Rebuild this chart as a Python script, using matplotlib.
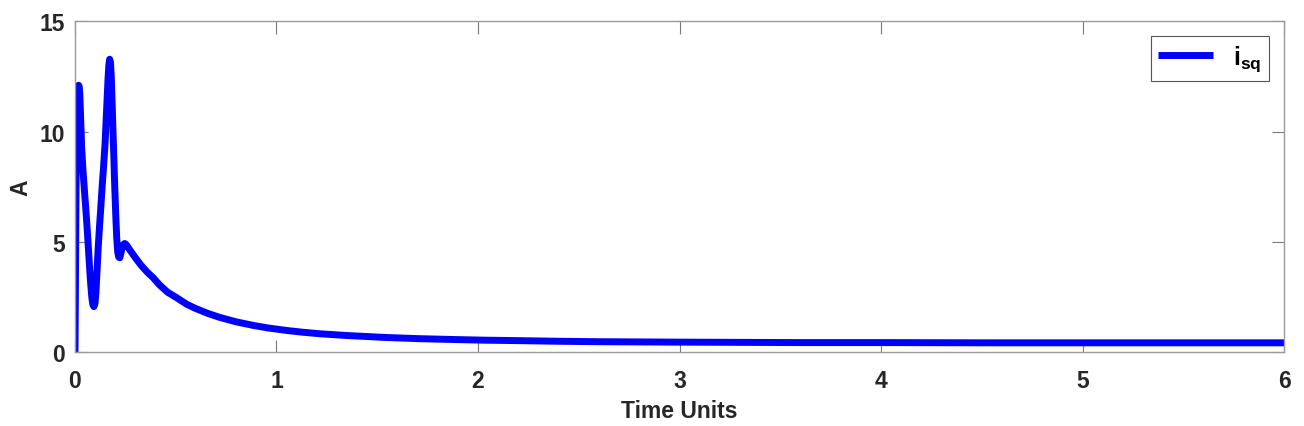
import numpy as np
import matplotlib.pyplot as plt

plt.rcParams['font.family'] = ['Liberation Sans', 'DejaVu Sans']
plt.rcParams['mathtext.fontset'] = 'custom'
plt.rcParams['mathtext.rm'] = 'Liberation Sans:bold'
plt.rcParams['mathtext.it'] = 'Liberation Sans:bold'
plt.rcParams['mathtext.bf'] = 'Liberation Sans:bold'

# values (time, current)
time_units = [
    0.000, 0.002, 0.004, 0.006, 0.009, 0.012, 0.015, 0.018, 0.021, 0.024,
    0.027, 0.030, 0.033, 0.040, 0.048, 0.056, 0.064, 0.072, 0.078, 0.084,
    0.089, 0.094, 0.099, 0.104, 0.109, 0.115, 0.121, 0.127, 0.134, 0.141,
    0.149, 0.155, 0.160, 0.164, 0.168, 0.172, 0.176, 0.180, 0.184, 0.188,
    0.193, 0.197, 0.202, 0.207, 0.212, 0.217, 0.222, 0.227, 0.233, 0.240,
    0.247, 0.254, 0.262, 0.275, 0.300, 0.330, 0.360, 0.388, 0.420, 0.460,
    0.500, 0.554, 0.600, 0.660, 0.719, 0.800, 0.884, 0.960, 1.050, 1.130,
    1.215, 1.350, 1.546, 1.700, 1.877, 2.030, 2.190, 2.400, 2.600, 2.800,
    3.000, 3.300, 3.600, 4.000, 4.500, 5.000, 5.500, 6.000,
]
i_sq = [
    0.00, 2.60, 5.80, 8.40, 10.50, 11.50, 11.95, 12.10, 12.05, 11.70,
    10.90, 10.10, 9.30, 8.20, 7.20, 6.20, 5.10, 3.90, 3.10, 2.45,
    2.15, 2.07, 2.20, 2.70, 3.60, 4.70, 5.60, 6.40, 7.40, 8.30,
    9.40, 10.60, 11.60, 12.40, 13.00, 13.28, 13.15, 12.50, 11.40, 10.20,
    8.80, 7.60, 6.30, 5.20, 4.55, 4.32, 4.28, 4.45, 4.70, 4.88,
    4.93, 4.88, 4.78, 4.60, 4.28, 3.92, 3.62, 3.38, 3.05, 2.72,
    2.50, 2.18, 1.98, 1.76, 1.58, 1.38, 1.22, 1.10, 0.99, 0.91,
    0.84, 0.76, 0.67, 0.62, 0.58, 0.55, 0.53, 0.50, 0.48, 0.47,
    0.46, 0.45, 0.44, 0.44, 0.43, 0.43, 0.43, 0.43,
]

fig = plt.figure(figsize=(13.04, 4.27), dpi=100)
ax = fig.add_axes([0.0575, 0.1726, 0.9272, 0.7752])

ax.plot(time_units, i_sq, color='#0000ff', lw=5.0, label=r'$\mathregular{i_{sq}}$',
        solid_joinstyle='round', solid_capstyle='butt')

ax.set_xlim(0, 6)
ax.set_ylim(0, 15)
ax.set_xticks(range(0, 7))
ax.set_yticks([0, 5, 10, 15])

for side in ax.spines.values():
    side.set_color('#9a9a9a')
    side.set_linewidth(1.0)

ax.tick_params(direction='in', length=9, width=0.8, color='#7a7a7a',
               top=True, right=True, labelsize=16.5, labelcolor='#262626')
ax.tick_params(axis='x', pad=12)
ax.tick_params(axis='y', pad=7)
for lbl in ax.get_xticklabels() + ax.get_yticklabels():
    lbl.set_fontweight('bold')

ax.set_xlabel('Time Units', fontsize=16.5, fontweight='bold', color='#262626', labelpad=5)
ax.set_ylabel('A', fontsize=16.5, fontweight='bold', color='#262626', labelpad=5)

leg = ax.legend(loc='upper right', bbox_to_anchor=(0.9876, 0.9556), borderaxespad=0,
                prop={'size': 18, 'weight': 'bold'},
                fancybox=False, framealpha=1, edgecolor='#555555',
                handlelength=2.2, borderpad=0.3, handletextpad=0.8)
leg.get_frame().set_linewidth(0.8)

fig.savefig('out.png', dpi=100)
